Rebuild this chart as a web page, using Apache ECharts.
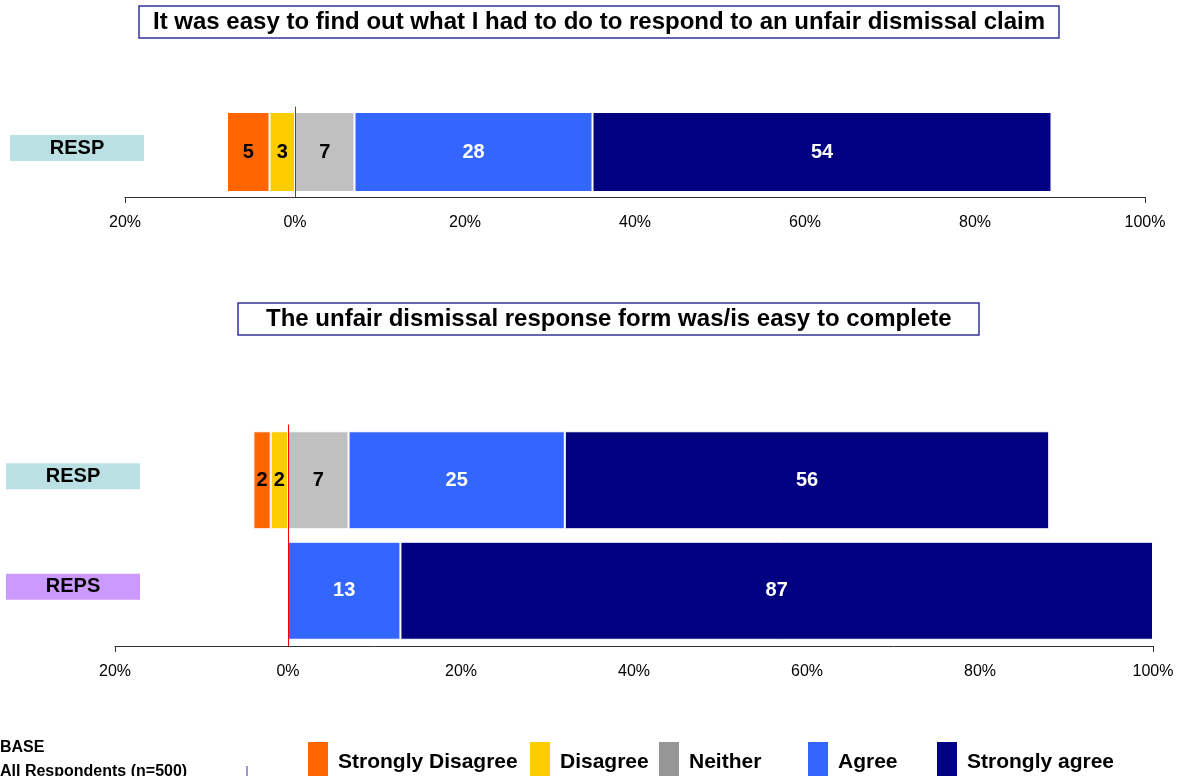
<!DOCTYPE html>
<html>
<head>
<meta charset="utf-8">
<script src="https://cdn.jsdelivr.net/npm/echarts@6/dist/echarts.min.js"></script>
<style>
  html, body { margin: 0; padding: 0; background: #fff; }
  #chart { width: 1179px; height: 776px; }
</style>
</head>
<body>
<div id="chart"></div>
<script>
const seriesNames = ['Strongly Disagree', 'Disagree', 'Neither', 'Agree', 'Strongly agree']
const xTicks = [-20, 0, 20, 40, 60, 80, 100]

// top chart: It was easy to find out what I had to do...
const topCategories = ['RESP']
const topStronglyDisagree = [-5]
const topDisagree = [-3]
const topNeither = [7]
const topAgree = [28]
const topStronglyAgree = [54]

// bottom chart: The unfair dismissal response form...
const bottomCategories = ['RESP', 'REPS']
const bottomStronglyDisagree = [-2, null]
const bottomDisagree = [-2, null]
const bottomNeither = [7, null]
const bottomAgree = [25, 13]
const bottomStronglyAgree = [56, 87]

const colors = {
  'Strongly Disagree': '#FF6600',
  'Disagree': '#FFCC00',
  'Neither': '#C0C0C0',
  'Agree': '#3366FF',
  'Strongly agree': '#000080'
}
const labelBoxColors = { RESP: '#BBE0E3', REPS: '#CC99FF' }
const font = 'Liberation Sans, Arial, sans-serif'

const chart = echarts.init(document.getElementById('chart'))

function xAxes(gridIndex) {
  return [
    {
      gridIndex,
      type: 'value',
      min: xTicks[0],
      max: xTicks[xTicks.length - 1],
      interval: xTicks[1] - xTicks[0],
      axisLine: { show: true, onZero: false, lineStyle: { color: '#333', width: 1 } },
      axisTick: { show: false },
      splitLine: { show: false },
      axisLabel: {
        color: '#000',
        fontSize: 16,
        fontFamily: font,
        margin: 18,
        formatter: (v) => Math.abs(v) + '%'
      }
    },
    // only used to draw the two end ticks
    {
      gridIndex,
      type: 'value',
      position: 'bottom',
      min: 0,
      max: 1,
      interval: 1,
      axisLine: { show: false, onZero: false },
      axisLabel: { show: false },
      splitLine: { show: false },
      axisTick: { show: true, length: 6, lineStyle: { color: '#333' } }
    }
  ]
}

function yAxis(gridIndex, data, margin) {
  const box = (c) => ({
    backgroundColor: c, width: 134, height: 26, lineHeight: 26, align: 'center',
    fontSize: 20, fontWeight: 'bold', fontFamily: font, color: '#000'
  })
  return {
    gridIndex,
    type: 'category',
    data,
    inverse: true,
    z: 5,
    // red zero line, sits on x = 0 of the main x axis
    axisLine: { show: true, onZero: true, onZeroAxisIndex: gridIndex * 2, lineStyle: { color: '#FF0000', width: 1 } },
    axisTick: { show: false },
    splitLine: { show: false },
    axisLabel: {
      margin,
      align: 'center',
      // empty second line lifts the box a little above the bar centre
      formatter: (v) => '{' + v + '|' + v + '}\n{gap| }',
      rich: {
        RESP: box(labelBoxColors.RESP),
        REPS: box(labelBoxColors.REPS),
        gap: { height: 8, lineHeight: 8, fontSize: 1 }
      }
    }
  }
}

function barSeries(name, data, axisIndex, barWidth) {
  const dark = name === 'Agree' || name === 'Strongly agree'
  return {
    name,
    type: 'bar',
    stack: 'total' + axisIndex,
    xAxisIndex: axisIndex * 2,
    yAxisIndex: axisIndex,
    data,
    barWidth,
    itemStyle: { color: colors[name], borderColor: '#fff', borderWidth: 1 },
    label: {
      show: true,
      position: 'inside',
      color: dark ? '#fff' : '#000',
      fontSize: 20,
      fontWeight: 'bold',
      fontFamily: font,
      formatter: (p) => (p.value == null ? '' : Math.abs(p.value))
    },
    emphasis: { disabled: true }
  }
}

function legend(name, left) {
  const item = { name }
  if (name === 'Neither') item.itemStyle = { color: '#969696' }
  return {
    data: [item],
    left,
    top: 742,
    padding: 0,
    icon: 'rect',
    itemWidth: 20,
    itemHeight: 40,
    itemStyle: { borderWidth: 0 },
    selectedMode: false,
    textStyle: { fontSize: 21, fontWeight: 'bold', fontFamily: font, color: '#000', padding: [0, 0, 0, 5] }
  }
}

const titleStyle = { fontSize: 24, fontWeight: 'bold', fontFamily: font, color: '#000', lineHeight: 24 }

chart.setOption({
  backgroundColor: '#fff',
  animation: false,
  title: [
    {
      text: 'It was easy to find out what I had to do to respond to an unfair dismissal claim',
      left: 139,
      top: 6,
      padding: [4, 14, 4, 14],
      borderColor: '#333399',
      borderWidth: 1.5,
      textStyle: titleStyle
    },
    {
      text: 'The unfair dismissal response form was/is easy to complete',
      left: 238,
      top: 303,
      padding: [4, 28, 4, 28],
      borderColor: '#333399',
      borderWidth: 1.5,
      textStyle: titleStyle
    }
  ],
  legend: [
    legend(seriesNames[0], 308),
    legend(seriesNames[1], 530),
    legend(seriesNames[2], 659),
    legend(seriesNames[3], 808),
    legend(seriesNames[4], 937)
  ],
  grid: [
    { left: 125, right: 34, top: 107, height: 90 },
    { left: 115, right: 26, top: 425, height: 221 }
  ],
  xAxis: [...xAxes(0), ...xAxes(1)],
  yAxis: [yAxis(0, topCategories, 48), yAxis(1, bottomCategories, 42)],
  series: [
    // Disagree first so it sits next to zero, Strongly Disagree stacks further left
    barSeries('Disagree', topDisagree, 0, 80),
    barSeries('Strongly Disagree', topStronglyDisagree, 0, 80),
    barSeries('Neither', topNeither, 0, 80),
    barSeries('Agree', topAgree, 0, 80),
    barSeries('Strongly agree', topStronglyAgree, 0, 80),
    barSeries('Disagree', bottomDisagree, 1, 98),
    barSeries('Strongly Disagree', bottomStronglyDisagree, 1, 98),
    barSeries('Neither', bottomNeither, 1, 98),
    barSeries('Agree', bottomAgree, 1, 98),
    barSeries('Strongly agree', bottomStronglyAgree, 1, 98)
  ],
  graphic: [
    {
      type: 'text',
      left: 0,
      top: 740,
      style: { text: 'BASE', font: 'bold 16px ' + font, fill: '#000' }
    },
    {
      type: 'text',
      left: 0,
      top: 764,
      style: { text: 'All Respondents (n=500)', font: 'bold 16px ' + font, fill: '#000' }
    },
    {
      type: 'line',
      shape: { x1: 247, y1: 766, x2: 247, y2: 776 },
      style: { stroke: '#333399', lineWidth: 1 }
    }
  ]
})
</script>
</body>
</html>
